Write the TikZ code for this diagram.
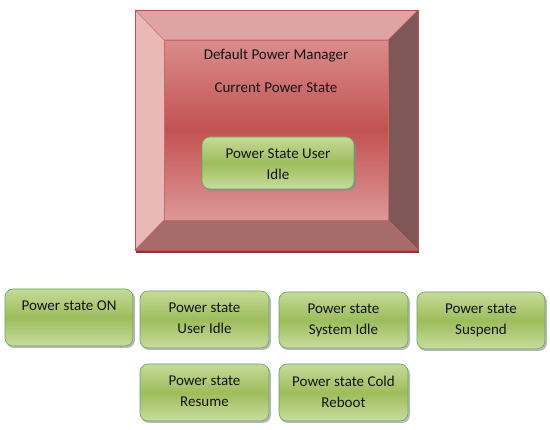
\documentclass[tikz,border=0pt]{standalone}
\usepackage{fontspec}
\setmainfont{Carlito}
\begin{document}
\begin{tikzpicture}[x=1pt,y=-1pt,
  gbox/.style={rounded corners=8pt, draw=green!40!black!60!white, line width=0.6pt,
    top color=gtop, bottom color=gbot, middle color=gmid},
  gshadow/.style={rounded corners=8pt, fill=black!45, draw=none, opacity=0.6},
  gtext/.style={anchor=north, align=center, font=\fontsize{15}{21}\selectfont, text=black!92, inner sep=0pt},
  rtext/.style={anchor=center, font=\fontsize{15}{18}\selectfont, text=black!92, inner sep=0pt}]
\definecolor{gtop}{HTML}{C5DA98}
\definecolor{gmid}{HTML}{9DBD5C}
\definecolor{gbot}{HTML}{C8DC9E}
\definecolor{rborder}{HTML}{C0504D}
\definecolor{rtopf}{HTML}{DFA3A3}
\definecolor{rleftf}{HTML}{EBB8B8}
\definecolor{rrightf}{HTML}{7F5757}
\definecolor{rbotf}{HTML}{A86B6B}
\definecolor{rfronttop}{HTML}{DA8C8C}
\definecolor{rfrontmid}{HTML}{C25252}
\definecolor{rfrontbot}{HTML}{DC9898}
\useasboundingbox (0,0) rectangle (550,430);
% bevel box
\coordinate (o1) at (135,10); \coordinate (o2) at (418,10);
\coordinate (o3) at (418,250); \coordinate (o4) at (135,250);
\coordinate (i1) at (164,40); \coordinate (i2) at (388,40);
\coordinate (i3) at (388,220); \coordinate (i4) at (164,220);
\fill[rborder!70!black] (136,250) rectangle (419,253);
\fill[rtopf] (o1) -- (o2) -- (i2) -- (i1) -- cycle;
\fill[rleftf] (o1) -- (i1) -- (i4) -- (o4) -- cycle;
\fill[rrightf] (o2) -- (o3) -- (i3) -- (i2) -- cycle;
\fill[rbotf] (o4) -- (i4) -- (i3) -- (o3) -- cycle;
\shade[top color=rfronttop, bottom color=rfrontbot, middle color=rfrontmid] (i1) rectangle (i3);
\draw[rborder!85!white, line width=0.5pt] (i1) rectangle (i3);
\draw[rborder!85!white, line width=0.5pt] (o1) -- (i1) (o2) -- (i2) (o3) -- (i3) (o4) -- (i4);
\draw[rborder, line width=0.8pt] (o1) rectangle (o3);
\node[rtext] (dpm) at (276,56) {Default Power Manager};
\node[rtext] (cps) at (276,88) {Current Power State};
% inner green box
\fill[gshadow] (203,139) rectangle (356,191);
\draw[gbox] (202,137) rectangle (354,189);
\node[gtext] (idle) at (278,149) {Power State User\\Idle};
% bottom boxes
\foreach \n/\xa/\ya/\xb/\yb/\t in {
  on/5/289/133/346/{Power state ON},
  ui/140/291/269/348/{Power state\\User Idle},
  si/279/292/408/348/{Power state\\System Idle},
  su/417/292/545/349/{Power state\\Suspend},
  re/140/364/269/421/{Power state\\Resume},
  cr/279/364/408/421/{Power state Cold\\Reboot}}{
  \fill[gshadow] (\xa+1,\ya+2) rectangle (\xb+2,\yb+2);
  \draw[gbox] (\xa,\ya) rectangle (\xb,\yb);
  \node[gtext] (\n) at ({(\xa+\xb)/2},\ya+12) {\t};
}
\end{tikzpicture}
\end{document}
